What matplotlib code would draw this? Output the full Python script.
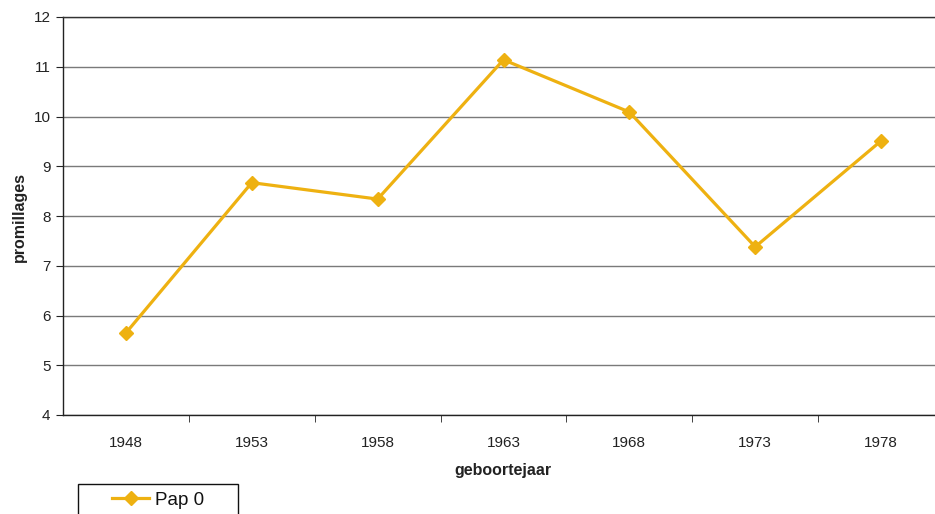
import matplotlib
matplotlib.use("Agg")
import matplotlib.pyplot as plt
from matplotlib.patches import Rectangle
import numpy as np

years = ["1948", "1953", "1958", "1963", "1968", "1973", "1978"]
values = [5.65, 8.67, 8.34, 11.14, 10.09, 7.38, 9.51]
series_name = "Pap 0"
yticks = [4, 5, 6, 7, 8, 9, 10, 11, 12]

plt.rcParams['font.family'] = ['Liberation Sans', 'DejaVu Sans']

W, H = 935, 514
fig = plt.figure(figsize=(W / 100, H / 100), dpi=100)
left, right, top, bottom = 63, 944, 17, 415
ax = fig.add_axes([left / W, 1 - bottom / H, (right - left) / W, (bottom - top) / H])

x = np.arange(len(years))
ax.plot(x, values, color="#EEB111", lw=2.3, marker="D", ms=7.5,
        markeredgecolor="#EEB111", label=series_name, zorder=3)

ax.set_xlim(-0.5, len(years) - 0.5)
ax.set_ylim(4, 12)
ax.set_yticks(yticks)
ax.set_yticklabels([str(t) for t in yticks])
ax.yaxis.grid(True, color="#7a7a7a", lw=1.0)
ax.set_axisbelow(True)

ax.set_xticks(x)
ax.set_xticklabels(years)
ax.set_xticks(np.arange(0.5, len(years) - 0.5, 1.0), minor=True)
ax.tick_params(axis="x", which="major", length=0, pad=15, labelsize=11, labelcolor="#222222")
ax.tick_params(axis="x", which="minor", length=5, direction="out", color="#222222")
ax.tick_params(axis="y", length=5, direction="out", color="#222222", labelsize=11,
               labelcolor="#222222", pad=4)

ax.spines["right"].set_visible(False)
ax.spines["top"].set_color("#333333")
ax.spines["left"].set_color("#222222")
ax.spines["bottom"].set_color("#222222")
for s in ["top", "left", "bottom"]:
    ax.spines[s].set_linewidth(1.0)

ax.set_ylabel("promillages", fontsize=11.5, fontweight="bold", color="#222222")
ax.yaxis.set_label_coords(19 / W, 1 - 217 / H, transform=fig.transFigure)
ax.set_xlabel("geboortejaar", fontsize=11.5, fontweight="bold", color="#222222")
ax.xaxis.set_label_coords(503 / W, 1 - 471 / H, transform=fig.transFigure)
ax.xaxis.label.set_verticalalignment("center")
ax.yaxis.label.set_verticalalignment("center")

leg = fig.legend(loc="center", bbox_to_anchor=(158 / W, 1 - 500 / H),
                 frameon=False, fontsize=13.5,
                 handlelength=2.0, borderpad=0, borderaxespad=0, handletextpad=0.3)
for t in leg.get_texts():
    t.set_color("#111111")
fig.patches.append(Rectangle((78 / W, 1 - 520 / H), 160 / W, 36 / H,
                             transform=fig.transFigure, fill=False,
                             edgecolor="#111111", lw=1.0))

fig.savefig("out.png", dpi=100)
